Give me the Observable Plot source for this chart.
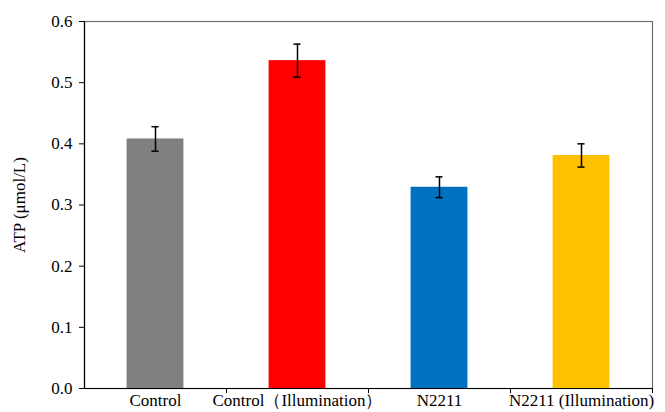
<!DOCTYPE html>
<html>
<head>
<meta charset="utf-8">
<script src="https://cdn.jsdelivr.net/npm/d3@7"></script>
<script src="https://cdn.jsdelivr.net/npm/@observablehq/plot@0.6"></script>
<style>
  html, body { margin: 0; padding: 0; background: #fff; }
  #chart { width: 665px; height: 412px; }
  #chart svg text { font-family: 'Liberation Serif', 'Times New Roman', serif; }
</style>
</head>
<body>
<div id="chart"></div>
<script>
const categories = ["Control", "Control（Illumination）", "N2211", "N2211 (Illumination)"];
const values = [0.408, 0.536, 0.329, 0.381];
const errors = [0.020, 0.027, 0.017, 0.019];
const colors = ["#808080", "#FF0000", "#0070C0", "#FFC000"];
const yTicks = [0, 0.1, 0.2, 0.3, 0.4, 0.5, 0.6];

const data = categories.map((c, i) => ({
  category: c, idx: i, value: values[i], err: errors[i], color: colors[i]
}));

const chart = Plot.plot({
  width: 665,
  height: 412,
  marginLeft: 84,
  marginRight: 13,
  marginTop: 21,
  marginBottom: 24,
  style: { fontFamily: "'Liberation Serif', 'Times New Roman', serif", fontSize: "17px", color: "#000", background: "#fff" },
  x: { domain: [0, categories.length], axis: null },
  y: { domain: [0, 0.6], axis: null },
  marks: [
    Plot.frame({ stroke: "#6e6e6e", strokeWidth: 1.2 }),
    Plot.rectY(data, {
      x1: d => d.idx + 0.3, x2: d => d.idx + 0.7,
      y1: 0, y2: "value", fill: d => d.color
    }),
    Plot.ruleX(data, {
      x: d => d.idx + 0.5, y1: d => d.value - d.err, y2: d => d.value + d.err,
      stroke: "#000", strokeWidth: 1.5
    }),
    Plot.ruleY(data, {
      y: d => d.value + d.err, x1: d => d.idx + 0.475, x2: d => d.idx + 0.525,
      stroke: "#000", strokeWidth: 1.5
    }),
    Plot.ruleY(data, {
      y: d => d.value - d.err, x1: d => d.idx + 0.475, x2: d => d.idx + 0.525,
      stroke: "#000", strokeWidth: 1.5
    }),
    Plot.axisY({
      ticks: yTicks, tickFormat: d3.format(".1f"), tickSize: 5, tickPadding: 7,
      stroke: "#000", fill: "#000",
      label: "ATP (μmol/L)", labelAnchor: "center", labelArrow: "none", labelOffset: 72
    }),
    Plot.axisX({
      ticks: d3.range(1, categories.length + 1), tickSize: 5, tickFormat: () => "", stroke: "#000"
    }),
    Plot.axisX({
      ticks: categories.map((c, i) => i + 0.5), tickSize: 0, tickPadding: 5,
      tickFormat: d => categories[Math.floor(d)], fill: "#000"
    }),
    Plot.ruleX([0], { stroke: "#000", strokeWidth: 1.2 }),
    Plot.ruleY([0], { stroke: "#000", strokeWidth: 1.2 })
  ]
});

document.getElementById("chart").appendChild(chart);
</script>
</body>
</html>
